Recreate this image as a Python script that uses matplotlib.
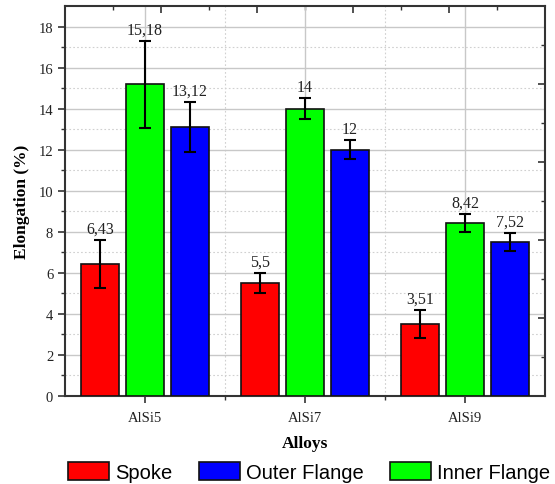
import matplotlib.pyplot as plt
import numpy as np

# data
alloys = ['AlSi5', 'AlSi7', 'AlSi9']
spoke = [6.43, 5.5, 3.51]
spoke_err = [1.15, 0.5, 0.66]
inner = [15.18, 14, 8.42]
inner_err = [2.1, 0.5, 0.45]
outer = [13.12, 12, 7.52]
outer_err = [1.22, 0.45, 0.44]
spoke_lbl = ['6,43', '5,5', '3,51']
inner_lbl = ['15,18', '14', '8,42']
outer_lbl = ['13,12', '12', '7,52']

serif = ['Liberation Serif', 'DejaVu Serif']

fig = plt.figure(figsize=(5.55, 4.85), dpi=100)
ax = fig.add_axes([0.117, 0.1814, 0.865, 0.8042])

x = np.arange(1, len(alloys) + 1)
w = 0.238
off = 0.282

series = [
    (spoke, spoke_err, spoke_lbl, '#ff0000', -off, 'Spoke'),
    (inner, inner_err, inner_lbl, '#00ff00', 0, 'Inner Flange'),
    (outer, outer_err, outer_lbl, '#0000ff', off, 'Outer Flange'),
]
handles = {}
for vals, errs, lbls, col, dx, name in series:
    b = ax.bar(x + dx, vals, w, yerr=errs, color=col, edgecolor='#111111',
               linewidth=1.2, zorder=3, label=name,
               error_kw=dict(ecolor='black', elinewidth=1.5, capsize=4,
                             capthick=1.5, zorder=4))
    handles[name] = b
    for xi, v, e, t in zip(x + dx, vals, errs, lbls):
        ax.annotate(t, (xi, v + e), xytext=(0, 2.5), textcoords='offset points',
                    ha='center', va='bottom', fontsize=11.5, family=serif,
                    color='#222222', zorder=5)

ax.set_xlim(0.5, 3.5)
ax.set_ylim(0, 19)

ax.set_xticks(x)
ax.set_xticklabels(alloys, family=serif, fontsize=10.5)
ax.set_xticks([1.5, 2.5], minor=True)
ax.set_yticks(np.arange(0, 19, 2))
ax.set_yticks(np.arange(1, 19, 2), minor=True)
for lab in ax.get_yticklabels():
    lab.set_family(serif)
    lab.set_fontsize(10.5)

ax.tick_params(axis='both', which='major', direction='out', length=5, width=1.2,
               color='#333333', labelcolor='#222222')
ax.tick_params(axis='x', which='major', pad=6)
ax.tick_params(axis='both', which='minor', direction='out', length=3, width=1.0,
               color='#333333')

# top / right axes with ten divisions of the range, ticks pointing in
top = ax.secondary_xaxis('top')
top.set_xticks(np.arange(1.1, 3.5, 0.6))
top.set_xticks(np.arange(0.8, 3.4, 0.6), minor=True)
top.tick_params(which='major', direction='in', length=5, width=1.2, color='#333333')
top.tick_params(which='minor', direction='in', length=3, width=1.0, color='#333333')
top.set_xticklabels([])
top.spines['top'].set_visible(False)
right = ax.secondary_yaxis('right')
right.set_yticks(np.arange(3.8, 19, 3.8))
right.set_yticks(np.arange(1.9, 19, 3.8), minor=True)
right.tick_params(which='major', direction='in', length=5, width=1.2, color='#333333')
right.tick_params(which='minor', direction='in', length=3, width=1.0, color='#333333')
right.set_yticklabels([])
right.spines['right'].set_visible(False)

ax.grid(True, which='major', color='#c8c8c8', linewidth=1.0, zorder=0)
ax.grid(True, which='minor', color='#d0d0d0', linewidth=0.8, linestyle=(0, (1.5, 2)), zorder=0)
ax.set_axisbelow(True)

for s in ax.spines.values():
    s.set_linewidth(1.5)
    s.set_color('#333333')

ax.set_ylabel('Elongation (%)', family=serif, fontweight='bold', fontsize=12.5,
              labelpad=6)
ax.set_xlabel('Alloys', family=serif, fontweight='bold', fontsize=12.5, labelpad=8)

fig.legend([handles['Spoke'], handles['Outer Flange'], handles['Inner Flange']],
           ['Spoke', 'Outer Flange', 'Inner Flange'],
           loc='center', bbox_to_anchor=(0.557, 0.025), ncol=3, frameon=False,
           prop={'family': ['Liberation Sans', 'DejaVu Sans'], 'size': 14.5},
           handlelength=2.05, handleheight=1.05, columnspacing=1.3, handletextpad=0.3,
           borderaxespad=0, borderpad=0)

plt.savefig('out.png', dpi=100)
